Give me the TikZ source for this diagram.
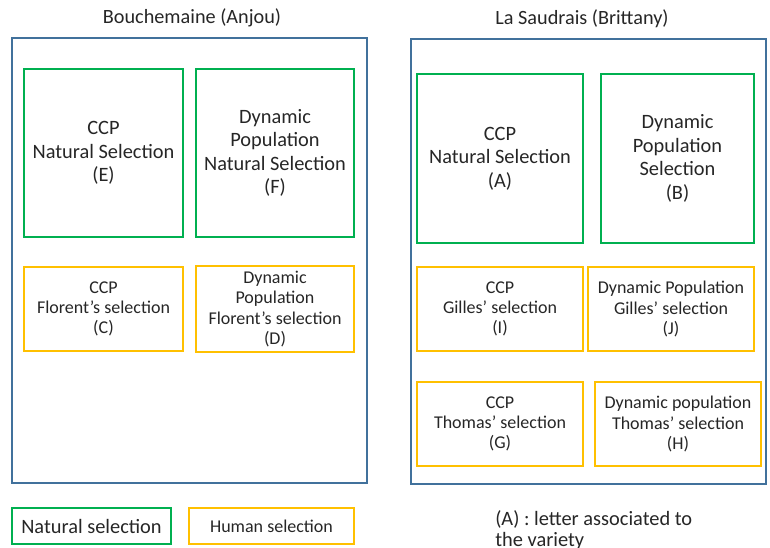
\documentclass[tikz,border=0pt]{standalone}
\usepackage{fontspec}
\setmainfont{Carlito}
\usepackage{xcolor}
\usetikzlibrary{positioning}

\definecolor{siteblue}{HTML}{41719C}
\definecolor{natgreen}{HTML}{00B050}
\definecolor{humyellow}{HTML}{FFC000}

\begin{document}
\begin{tikzpicture}[
    x=0.025cm, y=-0.025cm,
    every node/.style={text=black!85},
    site/.style={rectangle, draw=siteblue, line width=1.1pt, minimum width=8.875cm, minimum height=11.125cm},
    natbox/.style={rectangle, draw=natgreen, line width=1.3pt, align=center, minimum height=4.2cm, font=\fontsize{14.5}{16.7}\selectfont},
    humbox/.style={rectangle, draw=humyellow, line width=1.3pt, align=center, minimum height=2.1cm, font=\fontsize{12.8}{14.5}\selectfont},
    title/.style={font=\fontsize{14.4}{16}\selectfont}
]
    \useasboundingbox (0,0) rectangle (770,547);

    % Sites
    \node[site] (bouch) at (189.5,260.5) {};
    \node[site] (saud) at (588.5,261.5) {};
    \node[title] at (192,18) {Bouchemaine (Anjou)};
    \node[title] at (582,19) {La Saudrais (Brittany)};

    % Bouchemaine
    \node[natbox, minimum width=3.975cm] (varE) at (103.5,153) {CCP\\Natural Selection\\(E)};
    \node[natbox, minimum width=3.95cm] (varF) at (275,153) {Dynamic\\Population\\Natural Selection\\(F)};
    \node[humbox, minimum width=3.975cm] (varC) at (103.5,309) {CCP\\Florent’s selection\\(C)};
    \node[humbox, minimum width=3.95cm] (varD) at (275,309) {Dynamic\\Population\\Florent’s selection\\(D)};

    % La Saudrais
    \node[natbox, minimum width=4.15cm, minimum height=4.225cm] (varA) at (500,158.5) {CCP\\Natural Selection\\(A)};
    \node[natbox, minimum width=3.825cm, minimum height=4.225cm] (varB) at (677.5,158.5) {Dynamic\\Population\\Selection\\(B)};
    \node[humbox, minimum width=4.15cm] (varI) at (500,309) {CCP\\Gilles’ selection\\(I)};
    \node[humbox, minimum width=4.15cm] (varJ) at (671,309) {Dynamic Population\\Gilles’ selection\\(J)};
    \node[humbox, minimum width=4.15cm] (varG) at (500,424) {CCP\\Thomas’ selection\\(G)};
    \node[humbox, minimum width=4.15cm] (varH) at (678,424) {Dynamic population\\Thomas’ selection\\(H)};

    % Legend
    \node[natbox, minimum width=3.975cm, minimum height=0.9cm] (legnat) at (91.5,526) {Natural selection};
    \node[humbox, minimum width=4.125cm, minimum height=0.9cm] (leghum) at (271.5,526) {Human selection};
    \node[anchor=north west, align=left, inner sep=0pt, font=\fontsize{14.5}{15}\selectfont] (legletter) at (495,510) {(A) : letter associated to\\the variety};
\end{tikzpicture}
\end{document}
